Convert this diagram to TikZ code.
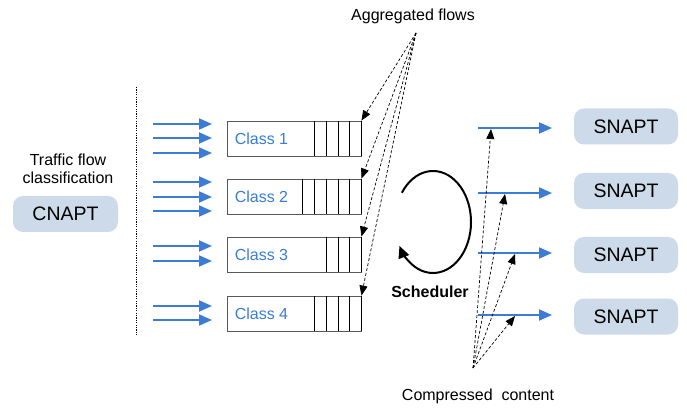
\documentclass[tikz,border=0pt]{standalone}
\usepackage{fontspec}
\setmainfont{Liberation Sans}
\usetikzlibrary{arrows.meta,calc}
\definecolor{flowblue}{RGB}{58,124,214}
\definecolor{boxfill}{RGB}{205,218,233}
\begin{document}
\begin{tikzpicture}[x=1pt,y=1pt,
  lbl/.style={font=\fontsize{16}{19}\selectfont, inner sep=0pt},
  bigl/.style={font=\fontsize{19.5}{22}\selectfont},
  apt/.style={rectangle, rounded corners=10pt, fill=boxfill, draw=none, minimum height=36pt, bigl},
  classbox/.style={rectangle, draw=black!65, line width=0.9pt, minimum width=134pt, minimum height=35pt, inner sep=0pt},
  cell/.style={draw=black, line width=0.8pt},
  bluearrow/.style={draw=flowblue, line width=1.8pt, -{Triangle[length=13pt,width=11pt]}},
  dasharrow/.style={draw=black, line width=0.7pt, dash pattern=on 3pt off 2pt, -{Triangle[length=10pt,width=8pt]}},
]
\useasboundingbox (0,0) rectangle (687,407);

% left
\node[lbl, align=center, font=\fontsize{16}{18.5}\selectfont] (tfc) at (68,238) {Traffic flow\\classification};
\node[apt, minimum width=105pt] (cnapt) at (65.5,193) {CNAPT};
\coordinate (dtop) at (136,320);
\coordinate (dbot) at (136,72);
\draw[line width=1pt, dash pattern=on 1.2pt off 1.2pt] (dtop) -- (dbot);

% class boxes
\node[classbox] (c1) at (294,268.5) {};
\node[classbox] (c2) at (294,210.5) {};
\node[classbox] (c3) at (294,152.5) {};
\node[classbox] (c4) at (294,93.5) {};
\foreach \b/\t in {c1/Class 1,c2/Class 2,c3/Class 3,c4/Class 4}{
  \node[lbl, text=flowblue, anchor=west] (\b t) at ([xshift=8pt]\b.west) {\t};
  \draw[cell] (\b.north east) -- (\b.south east);
}
\foreach \b/\n in {c1/4,c2/5,c3/3,c4/4}{
  \foreach \k in {1,...,\n}{
    \draw[cell] ([xshift=-\k*11.75pt]\b.north east) -- ([xshift=-\k*11.75pt]\b.south east);
  }
}

% incoming blue arrows
\foreach \y in {283,269,254,225,210,196,161,146,101,87}{
  \draw[bluearrow] (153,\y) -- (212,\y);
}

% aggregated flows
\node[lbl] (agg) at (413,391) {Aggregated flows};
\coordinate (aggp) at (416,374);
\foreach \b in {c1,c2,c3,c4}{
  \draw[dasharrow] (aggp) -- (\b.north east);
}

% scheduler
\draw[line width=2pt, -{Triangle[length=12pt,width=11pt]}]
  ([shift={(145:38 and 51)}]433,185) arc[start angle=145, end angle=-152, x radius=38, y radius=51];
\node[lbl, font=\fontsize{16}{19}\selectfont\bfseries] (sched) at (430,115) {Scheduler};

% outgoing blue arrows and SNAPT
\node[apt, minimum width=104pt] (s1) at (626,280.5) {SNAPT};
\node[apt, minimum width=104pt] (s2) at (626,216) {SNAPT};
\node[apt, minimum width=104pt] (s3) at (626,152) {SNAPT};
\node[apt, minimum width=104pt] (s4) at (626,90.5) {SNAPT};
\foreach \y/\n in {279/1,214/2,154/3,92/4}{
  \coordinate (o\n s) at (478,\y);
  \coordinate (o\n e) at (552,\y);
  \draw[bluearrow] (o\n s) -- (o\n e);
}

% compressed content
\node[lbl] (comp) at (478,11) {Compressed\ \ content};
\coordinate (compp) at (473,39);
\coordinate (t1) at (491,278);
\coordinate (t2) at (505,213);
\coordinate (t3) at (515,153);
\coordinate (t4) at (515,91);
\foreach \t in {t1,t2,t3,t4}{
  \draw[dasharrow] (compp) -- (\t);
}
\end{tikzpicture}
\end{document}
